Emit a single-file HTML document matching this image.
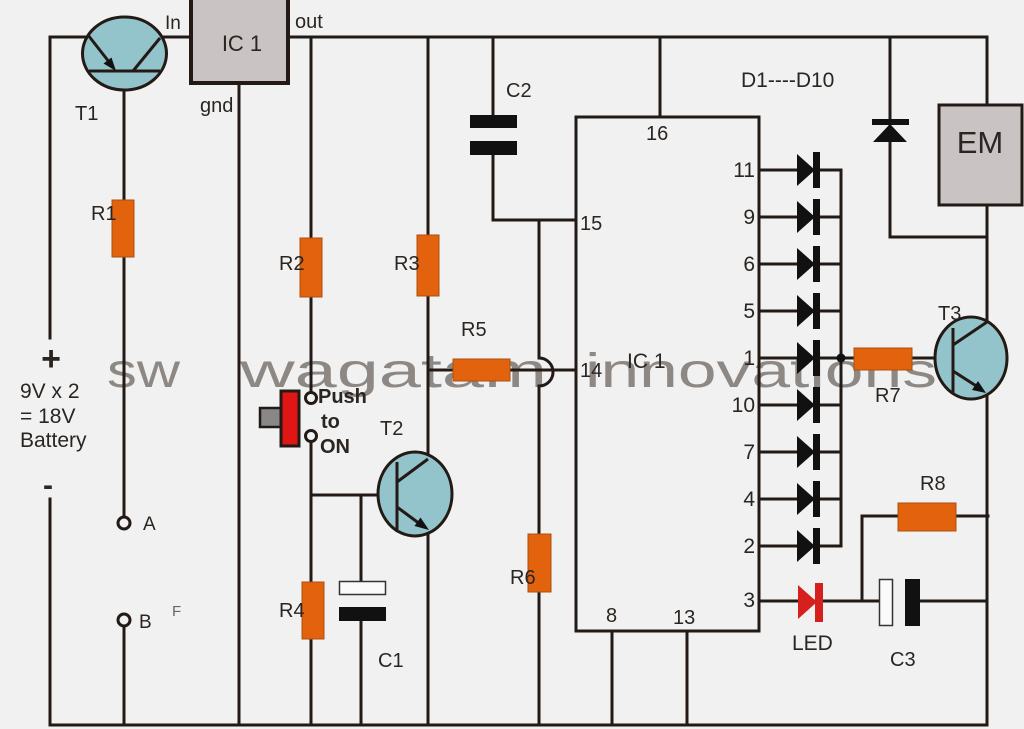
<!DOCTYPE html>
<html><head><meta charset="utf-8"><style>
html,body{margin:0;padding:0;background:#f1f1f1;}
svg{display:block;}
text{font-family:"Liberation Sans",Arial,sans-serif;fill:#2a2521;}
</style></head><body>
<svg width="1024" height="729" viewBox="0 0 1024 729" xmlns="http://www.w3.org/2000/svg">
<rect x="0" y="0" width="1024" height="729" fill="#f1f1f1"/>
<!-- watermark -->
<g style="font-size:48px">
<text x="107" y="387" textLength="73" lengthAdjust="spacingAndGlyphs" style="fill:#8d8884">sw</text>
<text x="240" y="387" textLength="307" lengthAdjust="spacingAndGlyphs" style="fill:#8d8884">wagatam</text>
<text x="585" y="387" textLength="352" lengthAdjust="spacingAndGlyphs" style="fill:#8d8884">innovations</text>
</g>
<!-- wires -->
<g stroke="#231a15" stroke-width="3" fill="none" stroke-linecap="square">
<path d="M50,338 V37 H88"/>
<path d="M50,499 V725 H987"/>
<path d="M160,37 H190"/>
<path d="M124,90 V516"/>
<path d="M124,627 V725"/>
<path d="M239,84 V725"/>
<path d="M289,37 H987 V105"/>
<path d="M311,37 V392"/>
<path d="M311,442 V725"/>
<path d="M311,495 H378"/>
<path d="M361,495 V581"/>
<path d="M361,621 V725"/>
<path d="M428,37 V456"/>
<path d="M428,530 V725"/>
<path d="M428,370 H576"/>
<path d="M493,37 V115"/>
<path d="M493,155 V220 H576"/>
<path d="M539,220 V358 A14,14 0 0 1 539,386 V725"/>
<path d="M660,37 V117"/>
<path d="M612,631 V725"/>
<path d="M687,631 V725"/>
<path d="M890,37 V237 H987"/>
<path d="M987,205 V322"/>
<path d="M987,393 V725"/>
<path d="M841,170 V546"/>
<path d="M841,358 H935"/>
<path d="M759,601 H879"/>
<path d="M862,601 V516 H988"/>
<path d="M920,601 H987"/>
<path d="M759,170 H841 M759,217 H841 M759,264 H841 M759,311 H841 M759,358 H841 M759,405 H841 M759,452 H841 M759,499 H841 M759,546 H841"/>
</g>
<!-- IC boxes -->
<rect x="191" y="-2" width="97" height="85" fill="#c9c3c3" stroke="#231a15" stroke-width="4"/>
<rect x="576" y="117" width="183" height="514" fill="none" stroke="#231a15" stroke-width="3"/>
<rect x="939" y="105" width="83" height="100" fill="#c9c3c3" stroke="#231a15" stroke-width="3"/>
<!-- resistors -->
<g fill="#e2620e" stroke="#a9500f" stroke-width="1">
<rect x="112" y="200" width="22" height="57"/>
<rect x="300" y="238" width="22" height="59"/>
<rect x="417" y="235" width="22" height="61"/>
<rect x="453" y="359" width="57" height="22"/>
<rect x="528" y="534" width="23" height="58"/>
<rect x="302" y="582" width="22" height="57"/>
<rect x="854" y="348" width="58" height="22"/>
<rect x="898" y="503" width="58" height="28"/>
</g>
<!-- capacitors -->
<rect x="470" y="115" width="47" height="13" fill="#111"/>
<rect x="470" y="141" width="47" height="14" fill="#111"/>
<rect x="339.5" y="581.5" width="46" height="13" fill="#fafafa" stroke="#333" stroke-width="1.5"/>
<rect x="339" y="607" width="47" height="14" fill="#111"/>
<rect x="879.5" y="579.5" width="13" height="46" fill="#fafafa" stroke="#333" stroke-width="1.5"/>
<rect x="905" y="579" width="15" height="47" fill="#111"/>
<!-- diodes -->
<g fill="#111">
<polygon points="797,154 797,186 815,170"/><rect x="813" y="152" width="7" height="36"/>
<polygon points="797,201 797,233 815,217"/><rect x="813" y="199" width="7" height="36"/>
<polygon points="797,248 797,280 815,264"/><rect x="813" y="246" width="7" height="36"/>
<polygon points="797,295 797,327 815,311"/><rect x="813" y="293" width="7" height="36"/>
<polygon points="797,342 797,374 815,358"/><rect x="813" y="340" width="7" height="36"/>
<polygon points="797,389 797,421 815,405"/><rect x="813" y="387" width="7" height="36"/>
<polygon points="797,436 797,468 815,452"/><rect x="813" y="434" width="7" height="36"/>
<polygon points="797,483 797,515 815,499"/><rect x="813" y="481" width="7" height="36"/>
<polygon points="797,530 797,562 815,546"/><rect x="813" y="528" width="7" height="36"/>
<circle cx="841" cy="358" r="4.5"/>
<rect x="872" y="119" width="37" height="6"/>
<polygon points="873,142 907,142 890,124"/>
</g>
<!-- LED -->
<polygon points="798,585 798,619 817,602" fill="#d6201e"/>
<rect x="815" y="583" width="8" height="39" fill="#d6201e"/>
<!-- terminals -->
<g fill="#f1f1f1" stroke="#231a15" stroke-width="3">
<circle cx="124" cy="523" r="6"/>
<circle cx="124" cy="620" r="6"/>
<circle cx="311" cy="398" r="5.5"/>
<circle cx="311" cy="436" r="5.5"/>
</g>
<!-- push switch -->
<rect x="260" y="408" width="23" height="19" fill="#8a8886" stroke="#231a15" stroke-width="2.5"/>
<rect x="281" y="391" width="18" height="55" fill="#e01616" stroke="#231a15" stroke-width="3"/>
<!-- transistors -->
<g stroke="#231a15" stroke-width="3">
<ellipse cx="124.5" cy="53.5" rx="42" ry="36.5" fill="#93c4cb"/>
<ellipse cx="415" cy="494" rx="37" ry="42" fill="#93c4cb"/>
<ellipse cx="971" cy="358" rx="36" ry="41" fill="#93c4cb"/>
<g fill="none">
<path d="M88,35 L113,67"/>
<path d="M89,71 H160"/>
<path d="M133,71 L160,38"/>
<path d="M397,462 V532"/>
<path d="M397,482 L428,459"/>
<path d="M397,507 L424,527"/>
<path d="M953,328 V394"/>
<path d="M953,345 L987,322"/>
<path d="M953,371 L981,389"/>
</g>
</g>
<g fill="#111">
<polygon points="116,71 103.5,63.5 111.5,57.5"/>
<polygon points="429,530 414.5,526 420.5,517.5"/>
<polygon points="986,393 972,390 978,381"/>
</g>
<!-- labels -->
<g style="font-size:20px">
<text x="165" y="29" style="font-size:19px">In</text>
<text x="295" y="28">out</text>
<text x="242" y="51" text-anchor="middle" style="font-size:22px">IC 1</text>
<text x="200" y="112">gnd</text>
<text x="75" y="120">T1</text>
<text x="91" y="220">R1</text>
<text x="279" y="270">R2</text>
<text x="394" y="270">R3</text>
<text x="461" y="336">R5</text>
<text x="506" y="97">C2</text>
<text x="646" y="140">16</text>
<text x="580" y="230">15</text>
<text x="580" y="377">14</text>
<text x="627" y="368" style="font-size:21px">IC 1</text>
<text x="741" y="87" style="font-size:21px">D1----D10</text>
<text x="980" y="153" text-anchor="middle" style="font-size:31px">EM</text>
<g text-anchor="end" style="font-size:21px">
<text x="755" y="177">11</text>
<text x="755" y="224">9</text>
<text x="755" y="271">6</text>
<text x="755" y="318">5</text>
<text x="755" y="365">1</text>
<text x="755" y="412">10</text>
<text x="755" y="459">7</text>
<text x="755" y="506">4</text>
<text x="755" y="553">2</text>
<text x="755" y="607">3</text>
</g>
<text x="606" y="622">8</text>
<text x="673" y="624">13</text>
<text x="792" y="650" style="font-size:21px">LED</text>
<text x="890" y="666">C3</text>
<text x="920" y="490">R8</text>
<text x="875" y="402">R7</text>
<text x="938" y="320">T3</text>
<text x="380" y="435">T2</text>
<text x="378" y="667">C1</text>
<text x="510" y="584">R6</text>
<text x="279" y="617">R4</text>
<text x="143" y="530" style="font-size:19px">A</text>
<text x="139" y="628" style="font-size:19px">B</text>
<text x="172" y="616" style="font-size:15px;fill:#6a6560">F</text>
<text x="20" y="398" style="font-size:21px">9V x 2</text>
<text x="20" y="423" style="font-size:21px">= 18V</text>
<text x="20" y="447" style="font-size:21px">Battery</text>
<text x="51" y="370" text-anchor="middle" style="font-size:34px;font-weight:bold">+</text>
<text x="48" y="495" text-anchor="middle" style="font-size:30px;font-weight:bold">-</text>
<text x="318" y="403" style="font-size:20px;font-weight:bold">Push</text>
<text x="321" y="428" style="font-size:20px;font-weight:bold">to</text>
<text x="320" y="453" style="font-size:20px;font-weight:bold">ON</text>
</g>
</svg>
</body></html>
